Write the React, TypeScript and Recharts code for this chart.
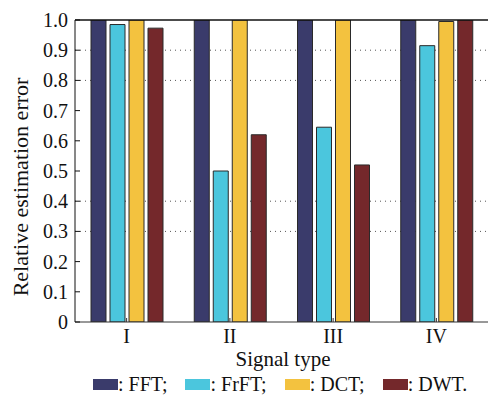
import React from 'react';
import { BarChart, Bar, XAxis, YAxis, CartesianGrid, ReferenceLine } from 'recharts';

const signalTypes = ['I', 'II', 'III', 'IV'];
const fft = [1.0, 1.0, 1.0, 1.0];
const frft = [0.985, 0.5, 0.645, 0.915];
const dct = [1.0, 1.0, 1.0, 0.995];
const dwt = [0.973, 0.62, 0.52, 1.0];
const yTicks = [0, 0.1, 0.2, 0.3, 0.4, 0.5, 0.6, 0.7, 0.8, 0.9, 1.0];
const gridValues = [0.3, 0.4, 0.8, 0.9];

const series = [
  { key: 'FFT', color: '#3a3b6b', sep: ';' },
  { key: 'FrFT', color: '#4bc6dd', sep: ';' },
  { key: 'DCT', color: '#f3c23f', sep: ';' },
  { key: 'DWT', color: '#74282b', sep: '.' },
];

const data = signalTypes.map((name, i) => ({
  name,
  FFT: fft[i],
  FrFT: frft[i],
  DCT: dct[i],
  DWT: dwt[i],
}));

const font = '"Liberation Serif", "Times New Roman", serif';
const FS = 20;
const TITLE_FS = 21;

// plain svg text so the serif face and size stick
function YTick({ x, y, payload }: any) {
  const v = payload.value as number;
  return (
    <text x={x - 2} y={y} dy={7} textAnchor="end" fontFamily={font} fontSize={FS} fill="#111">
      {v === 0 ? '0' : v.toFixed(1)}
    </text>
  );
}

function XTick({ x, y, payload }: any) {
  return (
    <text x={x} y={y} dy={21} textAnchor="middle" fontFamily={font} fontSize={FS} fill="#111">
      {payload.value}
    </text>
  );
}

function LegendRow() {
  return (
    <div
      style={{
        position: 'absolute',
        left: 93,
        top: 373,
        display: 'flex',
        fontFamily: font,
        fontSize: FS,
        color: '#111',
        lineHeight: '22px',
      }}
    >
      {series.map((s) => (
        <div key={s.key} style={{ display: 'flex', alignItems: 'center', marginRight: 18 }}>
          <span style={{ width: 25, height: 11, background: s.color, display: 'inline-block' }} />
          <span style={{ whiteSpace: 'pre' }}>: {s.key}{s.sep}</span>
        </div>
      ))}
    </div>
  );
}

export default function App() {
  return (
    <div style={{ position: 'absolute', left: 0, top: 0, width: 488, height: 406, background: '#fff' }}>
      <BarChart
        width={488}
        height={406}
        data={data}
        margin={{ top: 20, right: 0, left: 0, bottom: 44 }}
        barSize={15}
        barGap={4}
      >
        <CartesianGrid
          vertical={false}
          horizontalValues={gridValues}
          stroke="#555"
          strokeDasharray="1 4"
        />
        <XAxis
          dataKey="name"
          height={40}
          tick={<XTick />}
          tickSize={-4}
          tickMargin={4}
          axisLine={{ stroke: '#333' }}
          tickLine={{ stroke: '#333' }}
        />
        <YAxis
          width={75}
          domain={[0, 1]}
          ticks={yTicks}
          interval={0}
          allowDataOverflow
          tick={<YTick />}
          tickSize={-5}
          tickMargin={10}
          axisLine={{ stroke: '#111' }}
          tickLine={{ stroke: '#111' }}
        />
        {series.map((s) => (
          <Bar
            key={s.key}
            dataKey={s.key}
            fill={s.color}
            stroke="#2a2a2a"
            strokeWidth={1}
            isAnimationActive={false}
          />
        ))}
        <ReferenceLine y={1} stroke="#111" strokeWidth={1.5} />
      </BarChart>
      <svg width={488} height={406} style={{ position: 'absolute', left: 0, top: 0, pointerEvents: 'none' }}>
        <text
          x={0}
          y={0}
          transform="translate(28,187) rotate(-90)"
          textAnchor="middle"
          fontFamily={font}
          fontSize={22}
          fill="#111"
        >
          Relative estimation error
        </text>
        <text x={283} y={366} textAnchor="middle" fontFamily={font} fontSize={TITLE_FS} fill="#111">
          Signal type
        </text>
      </svg>
      <LegendRow />
    </div>
  );
}
